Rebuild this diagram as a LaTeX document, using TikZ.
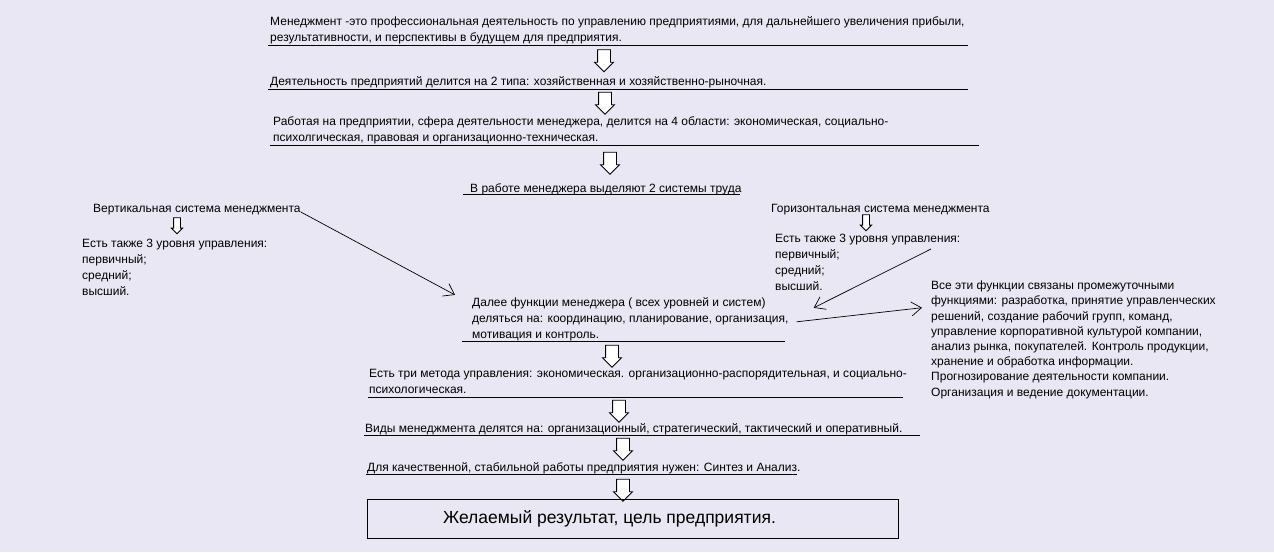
\documentclass[tikz,border=0pt]{standalone}
\usepackage{fontspec}
\setmainfont{Liberation Sans}
\usetikzlibrary{arrows.meta,shapes.arrows}
\definecolor{paper}{RGB}{233,231,243}
\tikzset{
  txt/.style={anchor=base west, inner sep=0pt, align=left, font=\fontsize{12}{16}\selectfont},
  uline/.style={line width=1pt},
  bigarrow/.style={draw, fill=white, single arrow, rotate=-90, text height=12pt, text depth=0pt, minimum height=22pt, single arrow head extend=3pt, inner sep=0pt, line width=0.8pt},
  smallarrow/.style={bigarrow, text height=6pt, minimum height=16pt, single arrow head extend=2.2pt},
  ptr/.style={-{Straight Barb[length=10pt,width=14pt]}, line width=0.7pt}
}
\begin{document}
\begin{tikzpicture}[x=1pt, y=-1pt]
    \fill[paper] (0,0) rectangle (1274,552);
    \useasboundingbox (0,0) rectangle (1274,552);
    % main chain (multi-line nodes sit on their last baseline)
    \node[txt] (mgmt) at (270,41) {Менеджмент -это профессиональная деятельность по управлению предприятиями, для дальнейшего увеличения прибыли,\\результативности, и перспективы в будущем для предприятия.};
    \draw[uline] (268,45) -- (968,45);
    \node[bigarrow] (a1) at (604,57.5) {};
    \node[txt] (types) at (270,85) {Деятельность предприятий делится на 2 типа: хозяйственная и хозяйственно-рыночная.};
    \draw[uline] (268,89) -- (968,89);
    \node[bigarrow] (a2) at (605,100) {};
    \node[txt] (areas) at (273,141) {Работая на предприятии, сфера деятельности менеджера, делится на 4 области: экономическая, социально-\\психолгическая, правовая и организационно-техническая.};
    \draw[uline] (270,145) -- (979,145);
    \node[bigarrow] (a3) at (610,160) {};
    \node[txt] (two) at (470,192) {В работе менеджера выделяют 2 системы труда};
    \draw[uline] (463,194) -- (740,194);
    % two systems
    \node[txt] (vert) at (93,212) {Вертикальная система менеджмента};
    \node[smallarrow] (sa1) at (177,224) {};
    \node[txt] (vlev) at (82,295) {Есть также 3 уровня управления:\\первичный;\\средний;\\высший.};
    \node[txt] (horiz) at (771,212) {Горизонтальная система менеджмента};
    \node[smallarrow] (sa2) at (866,221) {};
    \node[txt] (hlev) at (775,290) {Есть также 3 уровня управления:\\первичный;\\средний;\\высший.};
    % functions
    \node[txt] (func) at (472,338) {Далее функции менеджера ( всех уровней и систем)\\деляться на: координацию, планирование, организация,\\мотивация и контроль.};
    \draw[uline] (462,341) -- (785,341);
    \node[txt, font=\fontsize{12}{15.2}\selectfont] (allfn) at (931,396) {Все эти функции связаны промежуточными\\функциями: разработка, принятие управленческих\\решений, создание рабочий групп, команд,\\управление корпоративной культурой компании,\\анализ рынка, покупателей. Контроль продукции,\\хранение и обработка информации.\\Прогнозирование деятельности компании.\\Организация и ведение документации.};
    \draw[ptr] (vert.base east) -- ([xshift=-17pt,yshift=2pt]func.north west);
    \coordinate (hlv) at (931,249);
    \draw[ptr] (hlv) -- ([xshift=25pt,yshift=11pt]func.east);
    \draw[ptr] ([xshift=8pt,yshift=-3pt]func.east) -- ([xshift=-9pt,yshift=-27pt]allfn.north west);
    \node[bigarrow] (a4) at (612,353) {};
    \node[txt] (meth) at (369,393) {Есть три метода управления: экономическая. организационно-распорядительная, и социально-\\психологическая.};
    \draw[uline] (368,397) -- (903,397);
    \node[bigarrow] (a5) at (619,408) {};
    \node[txt] (kinds) at (365,432) {Виды менеджмента делятся на: организационный, стратегический, тактический и оперативный.};
    \draw[uline] (364,435) -- (920,435);
    \node[bigarrow] (a6) at (623,446) {};
    \node[txt] (synt) at (367,471) {Для качественной, стабильной работы предприятия нужен: Синтез и Анализ.};
    \draw[uline] (366,474) -- (797,474);
    \node[bigarrow] (a7) at (623,487) {};
    % result
    \node[draw, line width=1pt, minimum width=531pt, minimum height=39pt, inner sep=0pt] (goal) at (632.5,518.5) {};
    \node[font=\fontsize{17.5}{20}\selectfont, inner sep=0pt] (goaltxt) at ([xshift=-23pt]goal.center) {Желаемый результат, цель предприятия.};
\end{tikzpicture}
\end{document}
